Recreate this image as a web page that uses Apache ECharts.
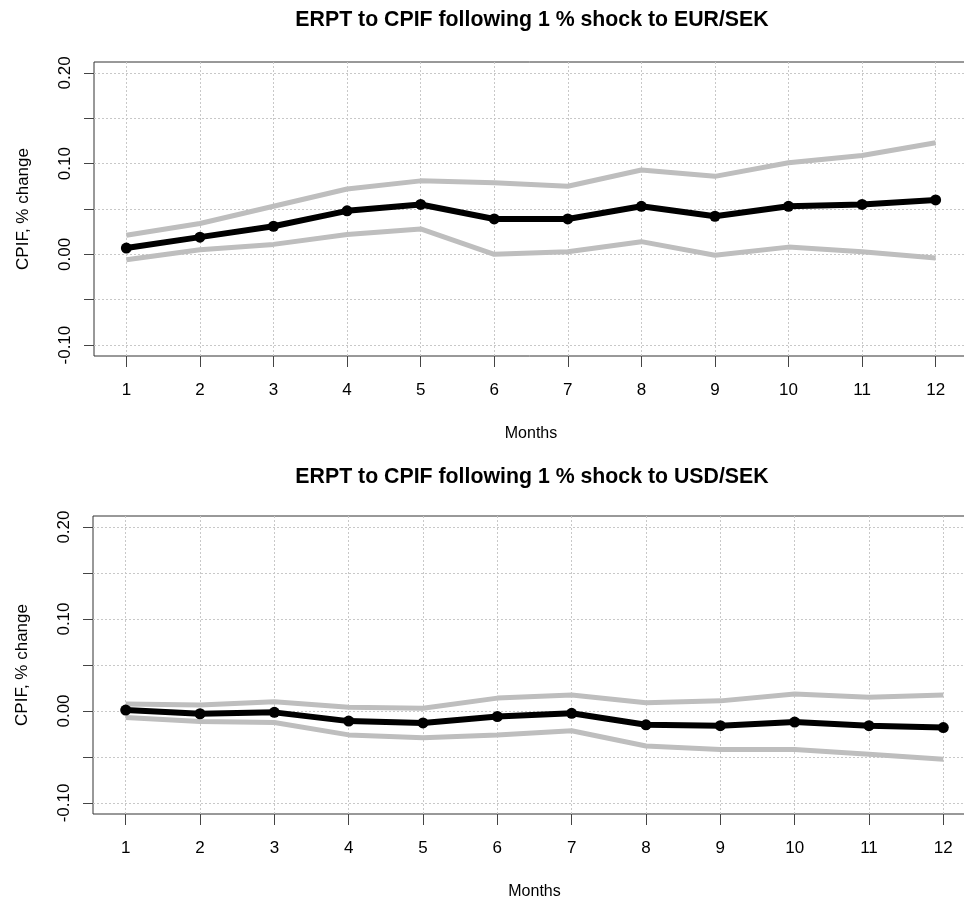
<!DOCTYPE html>
<html>
<head>
<meta charset="utf-8">
<script src="https://cdn.jsdelivr.net/npm/echarts@6/dist/echarts.min.js"></script>
<style>html,body{margin:0;padding:0;background:#fff;}#c{width:964px;height:903px;}</style>
</head>
<body>
<div id="c"></div>
<script>
const months = [1,2,3,4,5,6,7,8,9,10,11,12];
const yTicks = [-0.10,-0.05,0.00,0.05,0.10,0.15,0.20];
const yLabels = [-0.10,0.00,0.10,0.20];

const titles = ['ERPT to CPIF following 1 % shock to EUR/SEK','ERPT to CPIF following 1 % shock to USD/SEK'];

// EUR/SEK panel
const eurMid   = [0.007,0.019,0.031,0.048,0.055,0.039,0.039,0.053,0.042,0.053,0.055,0.060];
const eurUpper = [0.021,0.034,0.053,0.072,0.081,0.079,0.075,0.093,0.086,0.101,0.109,0.123];
const eurLower = [-0.006,0.005,0.011,0.022,0.028,0.000,0.003,0.014,-0.001,0.008,0.003,-0.004];

// USD/SEK panel
const usdMid   = [0.001,-0.003,-0.0015,-0.011,-0.013,-0.006,-0.0025,-0.015,-0.016,-0.012,-0.016,-0.018];
const usdUpper = [0.0075,0.0065,0.010,0.004,0.003,0.014,0.0175,0.009,0.011,0.0185,0.015,0.0175];
const usdLower = [-0.007,-0.0115,-0.0125,-0.026,-0.029,-0.026,-0.0215,-0.038,-0.042,-0.042,-0.047,-0.0525];

const FONT = 'Liberation Sans, Arial, sans-serif';
const pair = (xs, ys) => xs.map((x,i)=>[x, ys[i]]);

const grids = [
  {left:94, top:62, width:874, height:294},
  {left:93, top:516, width:883, height:298}
];

function xAxis(idx){
  return {
    type:'value', gridIndex:idx, min:0.56, max:12.44,
    name:'Months', nameLocation:'middle', nameGap:70,
    nameTextStyle:{fontFamily:FONT,fontSize:16,color:'#000'},
    axisLine:{show:false, onZero:false},
    axisTick:{show:true, customValues:months, length:11, lineStyle:{color:'#444',width:1}},
    axisLabel:{customValues:months, margin:26, fontFamily:FONT, fontSize:17, color:'#000'},
    splitLine:{show:true, lineStyle:{color:'#c8c8c8', type:[2,2], width:1}}
  };
}
function yAxis(idx){
  return {
    type:'value', gridIndex:idx, min:-0.112, max:0.212,
    name:'CPIF, % change', nameLocation:'middle', nameGap:62,
    nameTextStyle:{fontFamily:FONT,fontSize:17,color:'#000'},
    axisLine:{show:false, onZero:false},
    axisTick:{show:true, customValues:yTicks, length:10, lineStyle:{color:'#444',width:1}},
    axisLabel:{customValues:yLabels, rotate:90, margin:20, fontFamily:FONT, fontSize:17, color:'#000',
      formatter:v=>v.toFixed(2)},
    splitLine:{show:true, lineStyle:{color:'#c8c8c8', type:[2,2], width:1}}
  };
}
function band(idx, ys){
  return {type:'line', xAxisIndex:idx, yAxisIndex:idx, data:pair(months, ys), symbol:'none',
    lineStyle:{color:'#bebebe', width:5}, z:2, silent:true};
}
function mid(idx, ys){
  return {type:'line', xAxisIndex:idx, yAxisIndex:idx, data:pair(months, ys), symbol:'circle', symbolSize:11,
    itemStyle:{color:'#000'}, lineStyle:{color:'#000', width:6}, z:3, silent:true};
}

const chart = echarts.init(document.getElementById('c'), null, {renderer:'canvas'});
chart.setOption({
  animation:false,
  backgroundColor:'#fff',
  title:[
    {text:titles[0], left:527, top:5, textAlign:'center', textStyle:{fontFamily:FONT,fontSize:21.3,fontWeight:'bold',color:'#000'}},
    {text:titles[1], left:527, top:462, textAlign:'center', textStyle:{fontFamily:FONT,fontSize:21.3,fontWeight:'bold',color:'#000'}}
  ],
  grid: grids.map(g=>Object.assign({show:true, borderColor:'#333', borderWidth:1, backgroundColor:'transparent', outerBoundsMode:'none', containLabel:false}, g)),
  xAxis:[xAxis(0), xAxis(1)],
  yAxis:[yAxis(0), yAxis(1)],
  series:[
    band(0, eurUpper), band(0, eurLower), mid(0, eurMid),
    band(1, usdUpper), band(1, usdLower), mid(1, usdMid)
  ]
});
</script>
</body>
</html>
